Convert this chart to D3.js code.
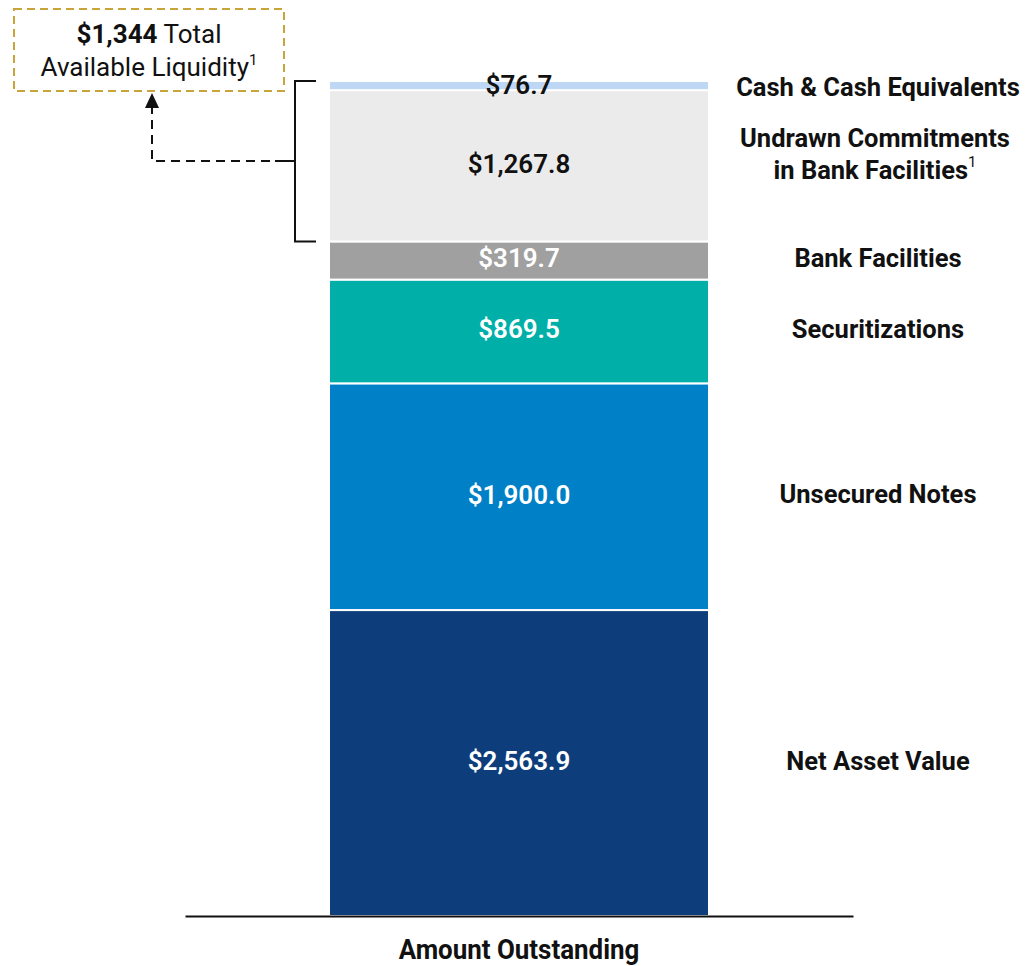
<!DOCTYPE html>
<html>
<head>
<meta charset="utf-8">
<script src="https://cdn.jsdelivr.net/npm/d3@7"></script>
<style>
  body { margin: 0; background: #fff; }
  text { font-family: Roboto, "Liberation Sans", sans-serif; }
</style>
</head>
<body>
<div id="chart"></div>
<script>
// Funding stack, bottom to top ($ millions)
const categories = ["Net Asset Value", "Unsecured Notes", "Securitizations",
                    "Bank Facilities", "Undrawn Commitments", "Cash & Cash Equivalents"];
const values = [2563.9, 1900.0, 869.5, 319.7, 1267.8, 76.7];
const valueLabels = ["$2,563.9", "$1,900.0", "$869.5", "$319.7", "$1,267.8", "$76.7"];
const colors = ["#0d3d7a", "#0080c6", "#00b0a8", "#a0a0a0", "#ebebeb", "#bdd7f5"];
const labelColors = ["#fff", "#fff", "#fff", "#fff", "#111", "#111"];
const xLabel = "Amount Outstanding";

const width = 1026, height = 966;

const svg = d3.select("#chart")
    .append("svg")
    .attr("width", width)
    .attr("height", height);

// stack the segments
const stacked = [];
let acc = 0;
values.forEach((v, i) => {
    stacked.push({cat: categories[i], y0: acc, y1: acc + v, label: valueLabels[i],
                  color: colors[i], textColor: labelColors[i]});
    acc += v;
});

const x = d3.scaleBand()
    .domain([xLabel])
    .range([185, 853])
    .paddingInner(0)
    .paddingOuter(0.379);

const y = d3.scaleLinear()
    .domain([0, acc])
    .range([916, 81]);

// bars
svg.selectAll("rect.seg")
    .data(stacked)
    .enter()
    .append("rect")
    .attr("class", "seg")
    .attr("x", x(xLabel))
    .attr("width", x.bandwidth())
    .attr("y", d => y(d.y1))
    .attr("height", d => y(d.y0) - y(d.y1))
    .attr("fill", d => d.color)
    .attr("stroke", "#fff")
    .attr("stroke-width", 2);

// value labels inside bars
svg.selectAll("text.val")
    .data(stacked)
    .enter()
    .append("text")
    .attr("class", "val")
    .attr("x", x(xLabel) + x.bandwidth() / 2)
    .attr("y", d => (y(d.y0) + y(d.y1)) / 2 + (d.y1 - d.y0 < 100 ? 2 : 0))
    .attr("text-anchor", "middle")
    .attr("dominant-baseline", "middle")
    .style("font-size", "26px")
    .style("font-weight", "600")
    .style("fill", d => d.textColor)
    .text(d => d.label);

// x axis
const xAxis = svg.append("g")
    .attr("transform", `translate(0,${y(0)})`)
    .call(d3.axisBottom(x).tickSize(0).tickPadding(24));
xAxis.select(".domain").attr("stroke", "#111").attr("stroke-width", 2);
xAxis.selectAll(".tick text")
    .style("font-family", "Roboto, sans-serif")
    .style("font-size", "27px")
    .style("font-weight", "bold")
    .style("fill", "#111")
    .attr("transform", "scale(0.96,1)");
xAxis.selectAll(".tick")
    .attr("transform", `translate(${x(xLabel) + x.bandwidth() / 2},0)`);

// right-side category labels
const labelX = 878;
const rightLabels = svg.append("g")
    .style("font-size", "25.5px")
    .style("font-weight", "bold")
    .style("fill", "#111")
    .attr("text-anchor", "middle");

stacked.forEach(d => {
    const mid = (y(d.y0) + y(d.y1)) / 2;
    if (d.cat === "Undrawn Commitments") {
        rightLabels.append("text")
            .attr("x", labelX - 3).attr("y", mid - 26)
            .attr("dominant-baseline", "middle")
            .text("Undrawn Commitments");
        const t2 = rightLabels.append("text")
            .attr("x", labelX - 3).attr("y", mid + 6)
            .attr("dominant-baseline", "middle");
        t2.append("tspan").text("in Bank Facilities");
        t2.append("tspan").attr("dy", -9).style("font-size", "15px").style("font-weight", "normal").text("1");
    } else {
        rightLabels.append("text")
            .attr("x", labelX)
            .attr("y", mid + (d.cat === "Cash & Cash Equivalents" ? 4 : 0))
            .attr("dominant-baseline", "middle")
            .text(d.cat);
    }
});

// bracket around liquidity segments
const liqTop = y(stacked[5].y1);
const liqBot = y(stacked[4].y0);
const bx = 295;
const bracket = svg.append("g").attr("stroke", "#111").attr("stroke-width", 2).attr("fill", "none");
bracket.append("path")
    .attr("d", `M316,${liqTop} H${bx} V${liqBot} H316`);
const midY = 161;
bracket.append("line").attr("x1", 275).attr("x2", bx).attr("y1", midY).attr("y2", midY);
bracket.append("path")
    .attr("d", `M270,${midY} H152 V106`)
    .attr("stroke-dasharray", "9,6");

svg.append("path")
    .attr("d", "M152,93 L145,108 L159,108 Z")
    .attr("fill", "#111");

// total liquidity callout box
svg.append("rect")
    .attr("x", 14)
    .attr("y", 9)
    .attr("width", 270)
    .attr("height", 82)
    .attr("fill", "none")
    .attr("stroke", "#c9a43a")
    .attr("stroke-width", 2)
    .attr("stroke-dasharray", "8,5");

const callout = svg.append("g")
    .attr("text-anchor", "middle")
    .style("font-size", "26px")
    .style("fill", "#111");
const c1 = callout.append("text").attr("x", 149).attr("y", 43);
c1.append("tspan").style("font-weight", "bold").text("$1,344");
c1.append("tspan").text(" Total");
const c2 = callout.append("text").attr("x", 149).attr("y", 76);
c2.append("tspan").text("Available Liquidity");
c2.append("tspan").attr("dy", -11).style("font-size", "15px").text("1");
</script>
</body>
</html>
